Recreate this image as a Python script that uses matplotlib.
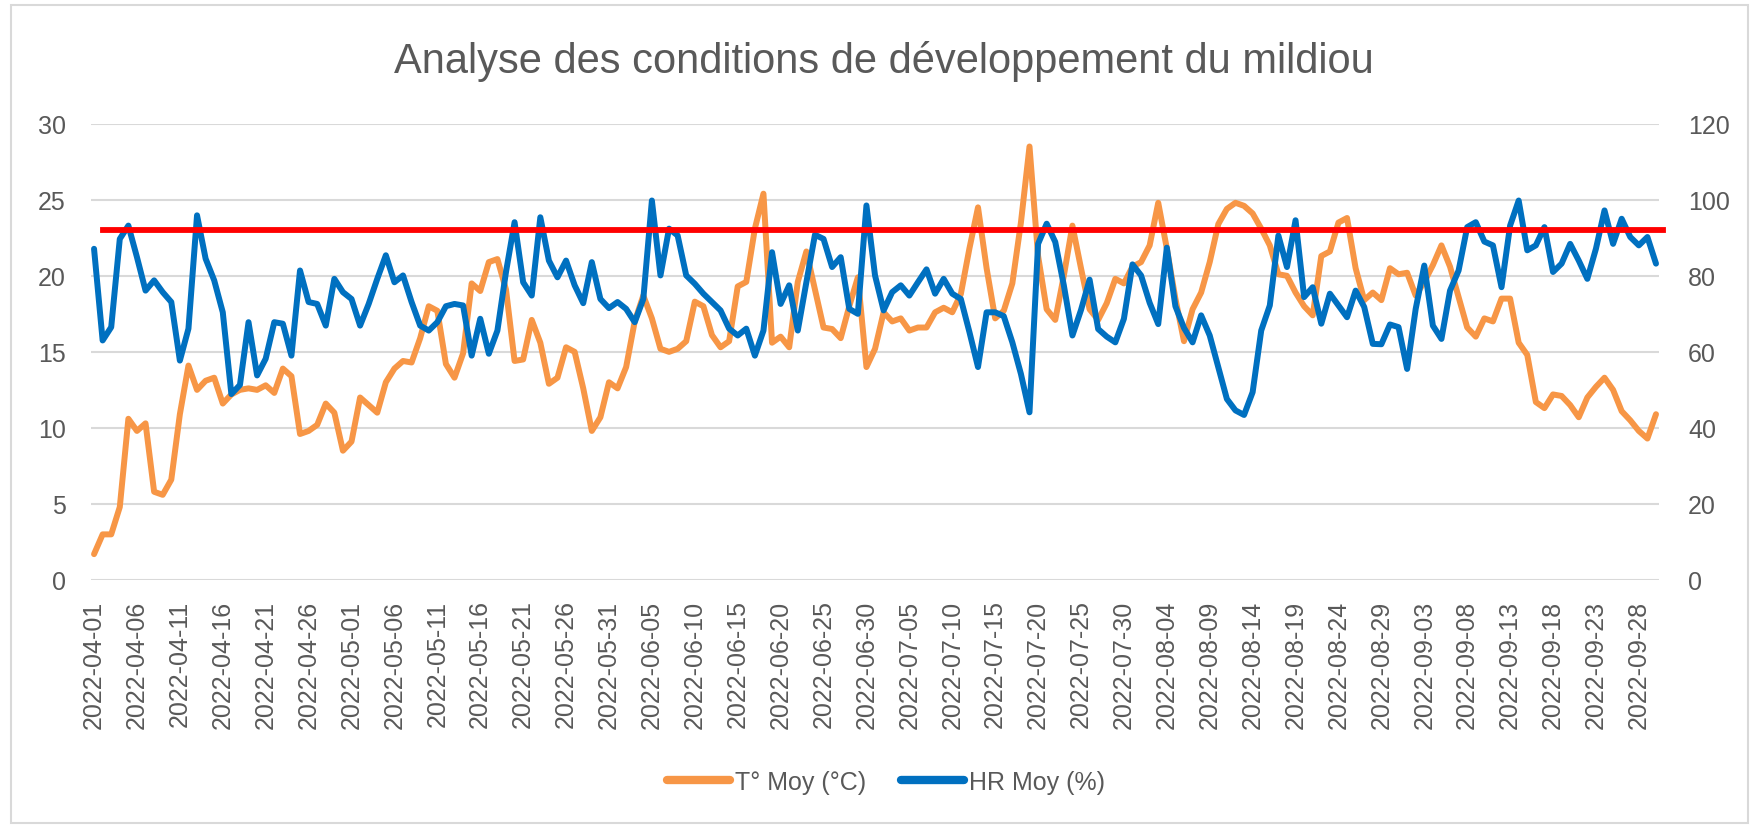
import matplotlib
matplotlib.use("Agg")
import matplotlib.pyplot as plt
from matplotlib.lines import Line2D
from matplotlib.patches import Rectangle
import pandas as pd

plt.rcParams['font.family'] = ['Liberation Sans', 'DejaVu Sans']

# Données journalières du 2022-04-01 au 2022-09-30
dates = pd.date_range("2022-04-01", "2022-09-30", freq="D")

t_avril = [1.7, 3.0, 3.0, 4.8, 10.6, 9.8, 10.3, 5.8, 5.6, 6.6, 10.9, 14.1, 12.5, 13.1, 13.3,
           11.6, 12.2, 12.5, 12.6, 12.5, 12.8, 12.3, 13.9, 13.4, 9.6, 9.8, 10.2, 11.6, 11.0, 8.5]
t_mai = [9.1, 12.0, 11.5, 11.0, 13.0, 13.9, 14.4, 14.3, 15.9, 18.0, 17.7, 14.2, 13.3, 14.9, 19.5,
         19.0, 20.9, 21.1, 19.1, 14.4, 14.5, 17.1, 15.6, 12.9, 13.3, 15.3, 15.0, 12.6, 9.8, 10.7, 13.0]
t_juin = [12.6, 14.0, 17.0, 18.7, 17.2, 15.2, 15.0, 15.2, 15.7, 18.3, 18.0, 16.1, 15.3, 15.7, 19.3,
          19.6, 23.1, 25.4, 15.6, 16.0, 15.3, 19.6, 21.6, 19.1, 16.6, 16.5, 15.9, 18.0, 19.9, 14.0]
t_juillet = [15.2, 17.6, 17.0, 17.2, 16.4, 16.6, 16.6, 17.6, 17.9, 17.6, 18.8, 21.8, 24.5, 20.5, 17.2,
             17.7, 19.5, 23.5, 28.5, 21.3, 17.8, 17.1, 20.0, 23.3, 20.5, 17.8, 17.1, 18.2, 19.8, 19.5, 20.6]
t_aout = [20.9, 22.0, 24.8, 21.8, 18.5, 15.7, 17.8, 18.9, 20.9, 23.4, 24.4, 24.8, 24.6, 24.1, 23.1,
          22.0, 20.1, 20.0, 18.9, 18.0, 17.4, 21.3, 21.6, 23.5, 23.8, 20.5, 18.4, 18.9, 18.4, 20.5, 20.1]
t_sept = [20.2, 18.7, 19.6, 20.7, 22.0, 20.6, 18.6, 16.6, 16.0, 17.2, 17.0, 18.5, 18.5, 15.6, 14.8,
          11.7, 11.3, 12.2, 12.1, 11.5, 10.7, 12.0, 12.7, 13.3, 12.5, 11.1, 10.5, 9.8, 9.3, 10.9]

hr_avril = [87.1, 63.0, 66.5, 89.7, 93.2, 84.9, 76.1, 78.8, 75.7, 73.1, 57.7, 66.1, 95.9, 84.5, 78.8,
            70.4, 48.9, 51.3, 67.8, 53.8, 58.2, 67.8, 67.4, 59.0, 81.4, 73.1, 72.6, 66.9, 79.2, 75.7]
hr_mai = [73.9, 66.9, 72.6, 79.2, 85.4, 78.3, 80.1, 73.1, 66.9, 65.6, 67.8, 72.0, 72.6, 72.2, 59.0,
          68.7, 59.5, 65.6, 81.0, 94.1, 78.3, 74.8, 95.4, 84.0, 79.6, 84.0, 77.5, 72.8, 83.6, 73.9, 71.5]
hr_juin = [73.1, 71.3, 67.8, 73.9, 99.8, 80.1, 92.4, 90.6, 80.1, 77.9, 75.3, 73.1, 70.9, 66.1, 64.3,
           66.1, 59.0, 65.6, 86.2, 72.6, 77.5, 65.6, 78.3, 90.8, 89.7, 82.3, 84.9, 71.3, 70.0, 98.5]
hr_juillet = [80.1, 70.9, 75.7, 77.5, 74.8, 78.3, 81.7, 75.3, 79.2, 75.3, 73.9, 65.2, 56.0, 70.4, 70.4,
              69.4, 62.5, 54.2, 44.1, 88.4, 93.7, 88.9, 77.5, 64.3, 71.0, 79.0, 66.0, 64.0, 62.5, 68.7, 83.0]
hr_aout = [80.1, 72.9, 67.3, 87.4, 72.0, 66.3, 62.5, 69.6, 64.3, 56.0, 47.6, 44.6, 43.4, 49.4, 65.6,
           72.2, 90.6, 82.3, 94.6, 74.4, 77.0, 67.4, 75.3, 72.2, 69.1, 76.1, 71.8, 62.1, 62.0, 67.2, 66.5]
hr_sept = [55.5, 71.3, 82.7, 66.9, 63.4, 76.1, 81.4, 92.8, 94.1, 89.0, 88.0, 77.0, 93.2, 99.8, 86.7,
           88.0, 92.8, 81.0, 83.2, 88.4, 84.0, 79.2, 87.1, 97.2, 88.4, 95.0, 90.2, 88.0, 90.2, 83.2]

t_moy = t_avril + t_mai + t_juin + t_juillet + t_aout + t_sept
hr_moy = hr_avril + hr_mai + hr_juin + hr_juillet + hr_aout + hr_sept
seuil_hr = 92  # seuil d'humidité (ligne rouge)

labels = [d.strftime("%Y-%m-%d") for d in dates]
x = list(range(len(dates)))

W, H = 1754, 828
fig = plt.figure(figsize=(W / 100, H / 100), dpi=100)
fig.patches.append(Rectangle((11 / W, 4 / H), (1748 - 11) / W, (822 - 4) / H,
                             transform=fig.transFigure, fill=False,
                             edgecolor="#D9D9D9", linewidth=1.5))

ax = fig.add_axes([90.7 / W, 1 - 581 / H, (1659 - 90.7) / W, (581 - 124.7) / H])
ax2 = ax.twinx()

gris = "#595959"
ax.plot(x, t_moy, color="#F79646", linewidth=4.3, solid_joinstyle="round", solid_capstyle="round")
ax2.plot(x, hr_moy, color="#0070C0", linewidth=4.3, solid_joinstyle="round", solid_capstyle="round")
ax2.plot([1.05, 182.8], [seuil_hr, seuil_hr], color="#FF0000", linewidth=4.2, clip_on=False)

ax.set_xlim(-0.39, 182.35)
ax.set_ylim(0, 30)
ax2.set_ylim(0, 120)
ax.set_yticks(range(0, 31, 5))
ax2.set_yticks(range(0, 121, 20))
ax.set_xticks(x[::5])
ax.set_xticklabels(labels[::5], rotation=90)

ax.grid(axis="y", color="#D9D9D9", linewidth=1.5)
ax.set_axisbelow(True)
for a in (ax, ax2):
    for s in a.spines.values():
        s.set_visible(False)
ax.tick_params(axis="x", length=0, pad=14, labelsize=18, labelcolor=gris)
ax.tick_params(axis="y", length=0, pad=18, labelsize=18, labelcolor=gris)
ax2.tick_params(axis="y", length=0, pad=21, labelsize=18, labelcolor=gris)

fig.text(884 / W, 1 - 62 / H, "Analyse des conditions de développement du mildiou",
         ha="center", va="center", fontsize=30, color=gris,
         family=["Liberation Sans Narrow", "Liberation Sans", "DejaVu Sans"])

handles = [Line2D([], [], color="#F79646", linewidth=6, solid_capstyle="round"),
           Line2D([], [], color="#0070C0", linewidth=6, solid_capstyle="round")]
fig.legend(handles, ["T° Moy (°C)", "HR Moy (%)"], loc="center",
           bbox_to_anchor=(886 / W, 1 - 783 / H), ncol=2, frameon=False,
           fontsize=18, labelcolor=gris, handlelength=2.5, handletextpad=0.2,
           columnspacing=1.4)

fig.savefig("out.png", dpi=100)
